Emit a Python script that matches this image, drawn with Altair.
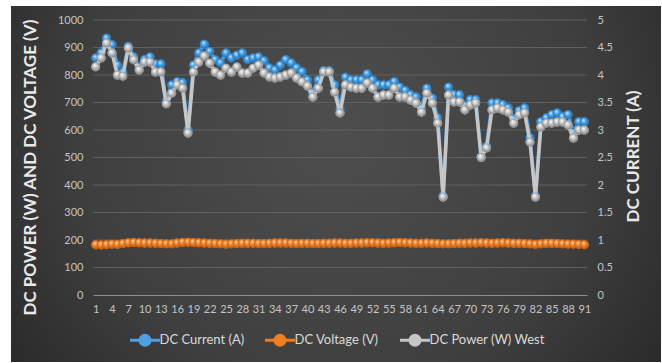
import altair as alt
import pandas as pd

# Sample number along the horizontal axis
samples = list(range(1, 92))

# DC power of the west string (W), left axis
power_w = [
    830, 862, 916, 880, 800, 796, 898, 855, 818, 847,
    847, 811, 811, 695, 734, 764, 752, 589, 811, 847,
    869, 843, 811, 800, 825, 811, 829, 807, 807, 825,
    836, 807, 793, 789, 793, 800, 807, 789, 775, 760,
    720, 752, 811, 811, 738, 662, 764, 756, 752, 752,
    771, 752, 720, 727, 727, 752, 720, 720, 709, 698,
    665, 734, 698, 625, 356, 727, 702, 702, 673, 691,
    698, 500, 535, 673, 680, 673, 665, 625, 655, 662,
    556, 356, 611, 625, 625, 629, 629, 618, 571, 600,
    600,
]

# DC current (A), right axis
current_a = [
    4.31, 4.40, 4.67, 4.55, 4.18, 4.05, 4.52, 4.33, 4.15, 4.28,
    4.33, 4.20, 4.20, 3.52, 3.82, 3.88, 3.86, 3.00, 4.18, 4.40,
    4.56, 4.43, 4.28, 4.22, 4.40, 4.31, 4.36, 4.40, 4.28, 4.31,
    4.33, 4.26, 4.13, 4.09, 4.18, 4.28, 4.22, 4.13, 4.06, 3.91,
    3.68, 3.91, 4.08, 4.08, 3.82, 3.38, 3.96, 3.91, 3.91, 3.91,
    4.02, 3.91, 3.82, 3.82, 3.82, 3.88, 3.78, 3.72, 3.64, 3.60,
    3.40, 3.76, 3.58, 3.22, 1.80, 3.78, 3.64, 3.64, 3.45, 3.55,
    3.55, 2.52, 2.70, 3.49, 3.49, 3.46, 3.40, 3.20, 3.35, 3.40,
    2.86, 1.80, 3.15, 3.22, 3.28, 3.31, 3.24, 3.28, 2.95, 3.15,
    3.15,
]

# DC voltage (V), left axis
voltage_v = [
    183, 182, 183, 185, 184, 187, 190, 191, 190, 189,
    189, 188, 187, 186, 186, 189, 191, 192, 191, 190,
    189, 188, 187, 186, 185, 186, 187, 188, 188, 188,
    187, 187, 188, 189, 189, 189, 188, 187, 188, 188,
    187, 187, 188, 188, 189, 189, 188, 188, 189, 189,
    190, 190, 189, 188, 189, 190, 191, 190, 189, 188,
    188, 189, 188, 187, 186, 186, 187, 188, 188, 189,
    189, 190, 189, 188, 189, 190, 189, 188, 188, 187,
    186, 184, 186, 188, 188, 187, 186, 185, 185, 184,
    183,
]

series_names = ["DC Current (A)", "DC Voltage (V)", "DC Power (W) West"]
line_colors = ["#4f9fe3", "#f07f22", "#c6c6c6"]

x_ticks = list(range(1, 92, 3))
left_ticks = list(range(0, 1001, 100))
right_ticks = [0, 0.5, 1, 1.5, 2, 2.5, 3, 3.5, 4, 4.5, 5]
grid_levels = list(range(100, 1001, 100))

FONT = "Lato"
LABEL = "#c4c4c4"


def frame(values, name):
    return pd.DataFrame({"n": samples, "value": values, "series": name})


cur_df = frame(current_a, series_names[0])
volt_df = frame(voltage_v, series_names[1])
pow_df = frame(power_w, series_names[2])


def ball(light, mid, dark):
    # shaded sphere look for the markers
    return {
        "gradient": "radial",
        "x1": 0.38, "y1": 0.3, "r1": 0.0,
        "x2": 0.5, "y2": 0.5, "r2": 0.55,
        "stops": [
            {"offset": 0.0, "color": light},
            {"offset": 0.45, "color": mid},
            {"offset": 1.0, "color": dark},
        ],
    }


x_enc = alt.X(
    "n:Q",
    scale=alt.Scale(domain=[0.5, 91.5], nice=False, zero=False),
    axis=alt.Axis(
        values=x_ticks, title=None, grid=False, ticks=False, tickSize=0,
        labelPadding=8, labelColor=LABEL, labelFont=FONT, labelFontSize=11,
        labelFlush=False, labelOverlap=False, domainColor="#8f8f8f",
        domainWidth=1, zindex=1,
    ),
)

left_axis = alt.Axis(
    values=left_ticks, format="d", orient="left", grid=False, ticks=False,
    tickSize=0, domain=False, labelPadding=10, labelColor=LABEL,
    labelFont=FONT, labelFontSize=11, zindex=1,
    title="DC POWER (W) AND DC VOLTAGE (V)", titleFont=FONT, titleFontSize=17,
    titleFontWeight="bold", titleColor="#e8e8e8", titleAngle=270,
    titleAlign="center", titleBaseline="middle", titleX=-63, titleY=147,
)
right_axis = alt.Axis(
    values=right_ticks, format="~g", orient="right", grid=False, ticks=False,
    tickSize=0, domain=False, labelPadding=10, labelColor=LABEL,
    labelFont=FONT, labelFontSize=11, zindex=1,
    title="DC CURRENT (A)", titleFont=FONT, titleFontSize=17,
    titleFontWeight="bold", titleColor="#e8e8e8", titleAngle=270,
    titleAlign="center", titleBaseline="middle", titleX=46, titleY=136,
)

left_scale = alt.Scale(domain=[0, 1000], nice=False)
right_scale = alt.Scale(domain=[0, 5], nice=False)

legend = alt.Legend(
    title=None, orient="none", direction="horizontal",
    legendX=30.5, legendY=313.5, padding=0, columnPadding=14,
    symbolType="M0,0L6,0M4,0A1,1,0,1,1,2,0A1,1,0,1,1,4,0Z",
    symbolSize=100, symbolStrokeWidth=3, symbolOpacity=1,
    labelFont=FONT, labelFontSize=13, labelColor="#dadada", labelOffset=23,
)
color_enc = alt.Color(
    "series:N",
    scale=alt.Scale(domain=series_names, range=line_colors),
    legend=legend,
)


def series_layers(df, y_enc, shade):
    line = alt.Chart(df).mark_line(strokeWidth=3.5, strokeJoin="round").encode(
        x=x_enc, y=y_enc, color=color_enc
    )
    solid = alt.Chart(df).mark_circle(size=80, opacity=1).encode(
        x=x_enc, y=y_enc, color=color_enc
    )
    shaded = alt.Chart(df).mark_circle(size=80, opacity=1, fill=shade).encode(
        x=x_enc, y=y_enc
    )
    return [line, solid, shaded]


# dark vignette panel behind everything
panel = alt.Chart(pd.DataFrame({"k": [0]})).mark_rect(
    fill={
        "gradient": "radial",
        "x1": 0.5, "y1": 0.42, "r1": 0.0,
        "x2": 0.5, "y2": 0.42, "r2": 0.78,
        "stops": [
            {"offset": 0.0, "color": "#4e4e4e"},
            {"offset": 0.5, "color": "#3f3f3f"},
            {"offset": 1.0, "color": "#1b1b1b"},
        ],
    }
).encode(
    x=alt.value(-82), x2=alt.value(568), y=alt.value(-14), y2=alt.value(342)
)

grid = alt.Chart(pd.DataFrame({"value": grid_levels})).mark_rule(
    color="#606060", strokeWidth=1
).encode(y=alt.Y("value:Q", scale=left_scale, axis=left_axis))

y_left = alt.Y("value:Q", scale=left_scale, axis=left_axis)
y_left_plain = alt.Y("value:Q", scale=left_scale, axis=None)
y_right = alt.Y("value:Q", scale=right_scale, axis=right_axis)

base = alt.layer(
    panel, grid,
    *series_layers(volt_df, y_left, ball("#ffd7ae", "#f3862c", "#b4520b")),
)
current = alt.layer(
    *series_layers(cur_df, y_right, ball("#d6eeff", "#4aa2e6", "#1b66a8"))
)
power = alt.layer(
    *series_layers(pow_df, y_left_plain, ball("#ffffff", "#c9c9c9", "#7a7a7a"))
)

chart = alt.layer(base, current, power).resolve_scale(
    y="independent"
).properties(
    width=494,
    height=275,
    padding={"left": 93, "top": 20, "right": 75, "bottom": 68},
    autosize=alt.AutoSizeParams(type="none"),
    background="white",
).configure_view(stroke=None)

chart.save("out.html", embed_options={"renderer": "svg", "actions": False})
